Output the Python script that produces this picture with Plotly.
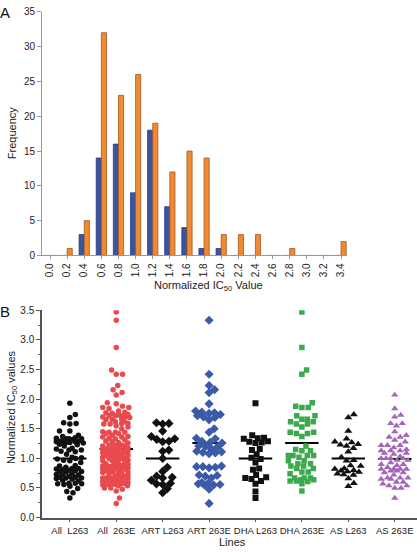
import numpy as np
import plotly.graph_objects as go

# ---------------- data ----------------
# Panel A: histogram of normalized IC50 values
bin_labels = ["0.0", "0.2", "0.4", "0.6", "0.8", "1.0", "1.2", "1.4", "1.6",
              "1.8", "2.0", "2.2", "2.4", "2.6", "2.8", "3.0", "3.2", "3.4"]
freq_L263 = [0, 0, 3, 14, 16, 9, 18, 7, 4, 1, 1, 0, 0, 0, 0, 0, 0, 0]
freq_263E = [0, 1, 5, 32, 23, 26, 19, 12, 15, 14, 3, 3, 3, 0, 1, 0, 0, 2]

# Panel B: individual normalized IC50 values per line
art_L263 = [1.60, 1.59, 1.58, 1.46, 1.37, 1.33, 1.32, 1.29, 1.28, 1.14, 1.12, 1.00,
            0.85, 0.78, 0.70, 0.68, 0.67, 0.63, 0.58, 0.57, 0.56, 0.49, 0.42]
art_263E = [3.33, 2.42, 2.23, 2.16, 2.11, 1.92, 1.80, 1.78, 1.77, 1.76, 1.74, 1.72,
            1.70, 1.69, 1.65, 1.50, 1.44, 1.34, 1.33, 1.29, 1.27, 1.26, 1.21, 1.20,
            1.19, 1.16, 1.12, 1.11, 1.10, 1.09, 1.08, 0.87, 0.86, 0.86, 0.85, 0.84,
            0.72, 0.71, 0.70, 0.67, 0.59, 0.58, 0.57, 0.56, 0.55, 0.55, 0.48, 0.24]
dha_L263 = [1.93, 1.39, 1.35, 1.34, 1.33, 1.29, 1.28, 1.27, 1.26, 1.16, 1.14, 1.07,
            1.01, 0.99, 0.93, 0.83, 0.81, 0.72, 0.68, 0.67, 0.65, 0.62, 0.57, 0.44, 0.33]
dha_263E = [3.47, 2.87, 2.49, 2.42, 1.94, 1.88, 1.86, 1.86, 1.72, 1.72, 1.66, 1.66,
            1.62, 1.62, 1.58, 1.58, 1.53, 1.44, 1.44, 1.42, 1.42, 1.37, 1.21, 1.15,
            1.13, 1.13, 1.05, 1.05, 1.05, 1.05, 1.02, 0.96, 0.96, 0.91, 0.91, 0.87,
            0.87, 0.83, 0.83, 0.77, 0.77, 0.74, 0.67, 0.67, 0.67, 0.64, 0.64, 0.62,
            0.62, 0.61, 0.57, 0.45]
as_L263 = [1.74, 1.69, 1.46, 1.33, 1.28, 1.27, 1.24, 1.23, 1.21, 1.17, 1.11, 1.02,
           0.97, 0.96, 0.88, 0.87, 0.83, 0.82, 0.80, 0.79, 0.78, 0.77, 0.74, 0.73,
           0.72, 0.66, 0.58, 0.53]
as_263E = [2.07, 1.84, 1.73, 1.70, 1.59, 1.59, 1.55, 1.45, 1.39, 1.36, 1.36, 1.31,
           1.28, 1.22, 1.22, 1.22, 1.18, 1.15, 1.13, 1.13, 1.13, 1.09, 1.09, 1.07,
           1.03, 1.00, 1.00, 1.00, 1.00, 0.97, 0.97, 0.93, 0.90, 0.90, 0.88, 0.85,
           0.82, 0.82, 0.82, 0.82, 0.79, 0.79, 0.76, 0.76, 0.72, 0.67, 0.67, 0.67,
           0.65, 0.65, 0.60, 0.60, 0.57, 0.54, 0.54, 0.50, 0.50, 0.33]
all_L263 = art_L263 + dha_L263 + as_L263
all_263E = art_263E + dha_263E + as_263E

line_names = ["All  L263", "All  263E", "ART L263", "ART 263E",
              "DHA L263", "DHA 263E", "AS L263", "AS 263E"]
line_values = [all_L263, all_263E, art_L263, art_263E,
               dha_L263, dha_263E, as_L263, as_263E]
line_means = [1.00, 1.16, 1.00, 1.26, 1.00, 1.26, 1.00, 0.99]

# ---------------- styling ----------------
W, H = 417, 552
FONT = "Liberation Sans, Arial, sans-serif"
BLUE, BLUE_EDGE = "#3b54a0", "#2a3c78"
ORANGE, ORANGE_EDGE = "#f08a32", "#a4561e"
marker_colors = ["#111111", "#e84a4e", "#111111", "#3b5aa8",
                 "#111111", "#3aaa4c", "#111111", "#a366b8"]
marker_symbols = ["circle", "circle", "diamond", "diamond",
                  "square", "square", "triangle-up", "triangle-up"]
marker_sizes = [5.5, 5.5, 7, 7, 6, 5.5, 7, 6.5]


def px(x):
    return x / W


def py(y):
    return 1 - y / H


# panel B geometry (pixels)
B_left, B_right, B_top, B_bottom = 42, 417, 311, 523
B_xrange = [-0.6, 7.48]
B_yrange = [0, 3.5]
px_per_cat = (B_right - B_left) / (B_xrange[1] - B_xrange[0])
px_per_unit = (B_bottom - B_top) / (B_yrange[1] - B_yrange[0])


def swarm(vals, d=6.3, maxw=13.5):
    """Beeswarm offsets (in category units) computed from the values."""
    order = np.argsort(vals)
    placed = []
    offs = np.zeros(len(vals))
    for i in order:
        y = vals[i] * px_per_unit
        near = [(x0, y0) for x0, y0 in placed if abs(y0 - y) < d]
        cands = [0.0]
        for x0, y0 in near:
            dx = np.sqrt(max(d * d - (y - y0) ** 2, 0)) + 1e-6
            cands += [x0 + dx, x0 - dx]
        valid = [c for c in cands if abs(c) <= maxw and
                 all((c - x0) ** 2 + (y - y0) ** 2 >= d * d - 1e-3 for x0, y0 in near)]
        if valid:
            x = min(valid, key=abs)
        else:
            grid = np.arange(-maxw, maxw + 0.01, d / 2)
            def score(c):
                m = min(((c - x0) ** 2 + (y - y0) ** 2 for x0, y0 in near), default=1e9)
                return (m, -abs(c))
            x = max(grid, key=score)
        placed.append((x, y))
        offs[i] = x / px_per_cat
    return offs


fig = go.Figure()

# ---------------- Panel A ----------------
idx = list(range(len(bin_labels)))
fig.add_trace(go.Bar(x=idx, y=freq_L263, marker=dict(color=BLUE, line=dict(color=BLUE_EDGE, width=0.8)),
                     xaxis="x", yaxis="y", showlegend=False))
fig.add_trace(go.Bar(x=idx, y=freq_263E, marker=dict(color=ORANGE, line=dict(color=ORANGE_EDGE, width=0.8)),
                     xaxis="x", yaxis="y", showlegend=False))

# ---------------- Panel B ----------------
half = 0.36
for k, m in enumerate(line_means):
    fig.add_trace(go.Scatter(x=[k - half, k + half], y=[m, m], mode="lines",
                             line=dict(color="black", width=2),
                             xaxis="x2", yaxis="y2", showlegend=False, hoverinfo="skip"))
for k, vals in enumerate(line_values):
    v = np.array(vals, dtype=float)
    xs = k + swarm(v)
    fig.add_trace(go.Scatter(x=xs, y=v, mode="markers",
                             marker=dict(color=marker_colors[k], symbol=marker_symbols[k],
                                         size=marker_sizes[k], line=dict(width=0)),
                             xaxis="x2", yaxis="y2", showlegend=False))

axis_font = dict(family=FONT, size=10, color="#222")
A_left, A_right, A_top, A_bottom = 42, 347, 6, 255
A_spacing = 17.12
A_first = 50

fig.update_layout(
    width=W, height=H, margin=dict(l=0, r=0, t=0, b=0),
    paper_bgcolor="white", plot_bgcolor="white",
    barmode="group", bargap=0.4, bargroupgap=0,
    font=dict(family=FONT, size=10, color="#222"),
    xaxis=dict(domain=[px(A_left), px(A_right)], anchor="y",
               range=[(A_left - A_first) / A_spacing, (A_right - A_first) / A_spacing],
               tickmode="array", tickvals=idx, ticktext=bin_labels, tickangle=-90,
               showgrid=False, zeroline=False, showline=True, linecolor="#999", linewidth=1,
               ticks="outside", ticklen=3, tickcolor="#999", tickfont=axis_font),
    yaxis=dict(domain=[py(A_bottom), py(A_top)], anchor="x", range=[0, 35],
               tickvals=[0, 5, 10, 15, 20, 25, 30, 35],
               showgrid=False, zeroline=False, showline=True, linecolor="#999", linewidth=1,
               ticks="outside", ticklen=4, tickcolor="#999", tickfont=axis_font),
    xaxis2=dict(domain=[px(B_left), px(B_right)], anchor="y2", range=B_xrange,
                tickmode="array", tickvals=list(range(len(line_names))), ticktext=line_names,
                tickangle=0,
                showgrid=False, zeroline=False, showline=True, linecolor="#555", linewidth=1.5,
                ticks="outside", ticklen=3, tickcolor="#555",
                tickfont=dict(family=FONT, size=9.5, color="#222")),
    yaxis2=dict(domain=[py(B_bottom), py(B_top)], anchor="x2", range=B_yrange,
                tickvals=[0, 0.5, 1.0, 1.5, 2.0, 2.5, 3.0, 3.5], tickformat=".1f",
                showgrid=False, zeroline=False, showline=True, linecolor="#555", linewidth=1.5,
                ticks="outside", ticklen=4, tickcolor="#555", tickfont=axis_font,
                minor=dict(dtick=0.25, ticks="outside", ticklen=2, tickcolor="#555")),
)

ann_font = dict(family=FONT, size=11, color="#222")
annotations = [
    dict(text="A", x=px(5), y=py(7), font=dict(family=FONT, size=15, color="#111")),
    dict(text="B", x=px(5), y=py(312), font=dict(family=FONT, size=15, color="#111")),
    dict(text="Frequency", x=px(12), y=py(130), textangle=-90, font=ann_font),
    dict(text="Normalized IC<sub>50</sub> Value", x=px(208), y=py(286), font=ann_font),
    dict(text="Normalized IC<sub>50</sub> values", x=px(12), y=py(410), textangle=-90, font=ann_font),
    dict(text="Lines", x=px(232), y=py(548), font=ann_font),
]
for a in annotations:
    a.update(xref="paper", yref="paper", showarrow=False, xanchor="center", yanchor="middle")
fig.update_layout(annotations=annotations)

fig.write_html("out.html", config={"displayModeBar": False},
               post_script="document.body.style.margin='0';document.body.style.overflow='hidden';")
